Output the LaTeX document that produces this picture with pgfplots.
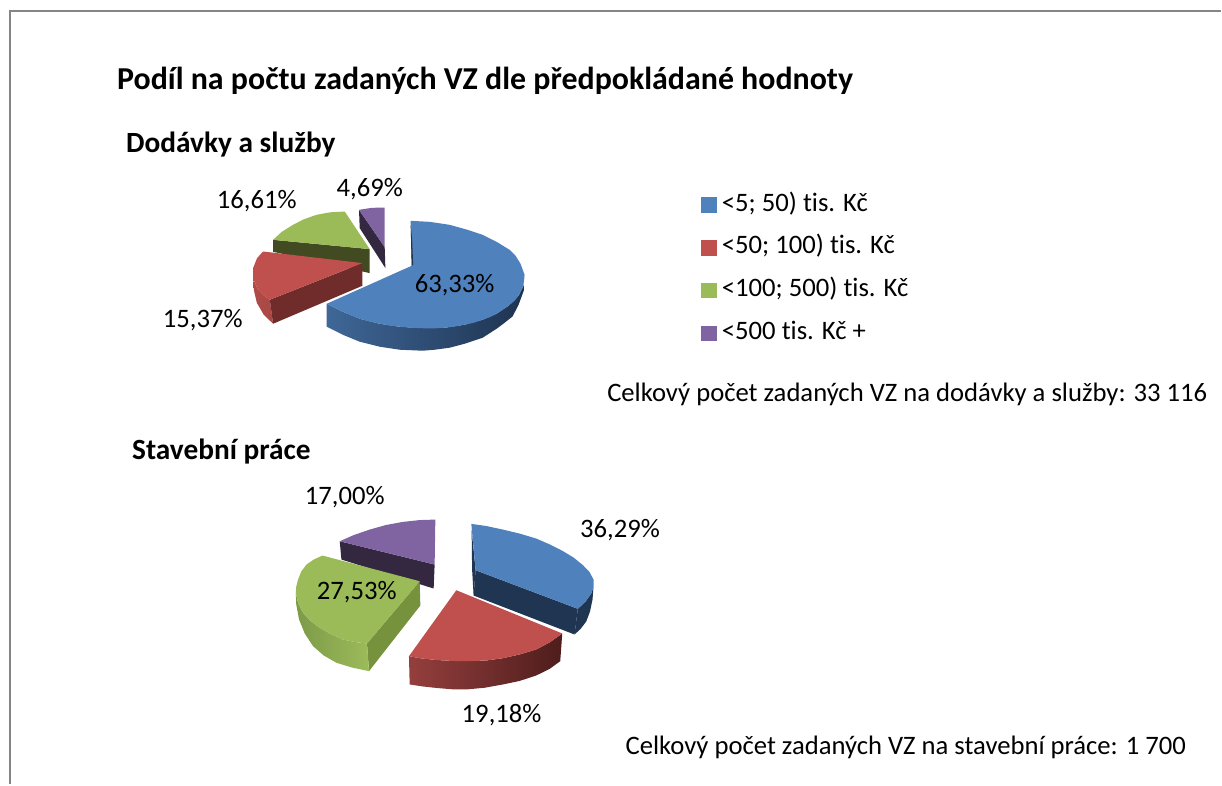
\documentclass[border=0pt]{standalone}
\usepackage{fontspec}
\setmainfont{Carlito}[Ligatures=NoCommon]
\usepackage{pgfplots}
\pgfplotsset{compat=1.18}

\definecolor{cblue}{HTML}{4F81BD}
\definecolor{cred}{HTML}{C0504D}
\definecolor{cgreen}{HTML}{9BBB59}
\definecolor{cviolet}{HTML}{8064A2}
\definecolor{dblue}{HTML}{1F3552}
\definecolor{dred}{HTML}{6F2C2B}
\definecolor{dgreen}{HTML}{414A20}
\definecolor{mgreen}{HTML}{76923C}
\definecolor{dviolet}{HTML}{332840}
\definecolor{sredA}{HTML}{B04A47}
\definecolor{sredB}{HTML}{A84845}
\definecolor{sredC}{HTML}{943F3D}
\definecolor{sredD}{HTML}{4E1D1C}
\definecolor{sblueA}{HTML}{3F6797}
\definecolor{sblueB}{HTML}{1E3350}
\definecolor{sgreenA}{HTML}{7D9A48}
\definecolor{sgreenB}{HTML}{9CBB59}

\pgfplotsset{
  face/.style={draw=none, fill=#1, no markers, forget plot},
  sideshade/.style 2 args={draw=none, left color=#1, right color=#2, no markers, forget plot},
}
\newcommand{\txt}[3]{\node[font=\fontsize{20}{22}\selectfont, inner sep=0pt, anchor=center] at (axis cs:#1,#2) {#3};}

\begin{document}
\begin{tikzpicture}
\begin{axis}[
    scale only axis,
    width=916.5pt, height=588.75pt,
    xmin=0, xmax=1222, ymin=0, ymax=785,
    y dir=reverse,
    hide axis,
    clip=false,
    legend style={at={(axis cs:702,192.5)}, anchor=north west, draw=none, fill=none,
      font=\fontsize{20}{22}\selectfont, row sep=14.25pt, inner sep=0pt, outer sep=0pt,
      nodes={inner sep=0pt, text height=14pt, text depth=4pt}},
    legend cell align=left,
    legend image code/.code={\fill[#1] (0pt,-5.6pt) rectangle (11.25pt,5.6pt); \path (15pt,0pt);},
]
% page size
\path (axis cs:0,0) rectangle (axis cs:1222,785);

% legend
\addlegendimage{cblue}\addlegendentry{<5; 50) tis. Kč}
\addlegendimage{cred}\addlegendentry{<50; 100) tis. Kč}
\addlegendimage{cgreen}\addlegendentry{<100; 500) tis. Kč}
\addlegendimage{cviolet}\addlegendentry{<500 tis. Kč +}

% frame
\addplot[draw=black!48, line width=1.5pt, no markers, forget plot] coordinates {(10,785) (10,11) (1222,11)};

% Dodavky a sluzby: violet
\addplot[face=dviolet] coordinates {(359.3,210) (385,247.3) (385.7,268.3) (360,228.3)};
\addplot[face=cviolet] coordinates {(385,207.7) (372,208) (359.3,210) (385,247.3)};
% green
\addplot[face=dgreen] coordinates {(273.3,240) (370,249.3) (370,273.3) (273.3,252)};
\addplot[face=cgreen] coordinates {(370,249.3) (345,211.7) (330,212.5) (316.7,215) (304,219.5) (293.3,225) (282,232) (273.3,240)};
% red
\addplot[sideshade={sredA}{sredB}] coordinates {(253.3,270) (254,290) (257,303) (264,315) (273.3,324) (270,300) (263.3,295) (257.3,288.3) (253.3,278.3)};
\addplot[face=dred] coordinates {(362.7,263.3) (270,300) (273.3,324) (362.7,286)};
\addplot[face=cred] coordinates {(362.7,263.3) (263.3,251.7) (257.3,258.3) (253.3,268.3) (253.3,278.3) (257.3,288.3) (263.3,295) (270,300)};
% blue
\addplot[sideshade={sblueA}{sblueB}] coordinates {(327,304) (343,312) (360,319) (380,324) (400,327) (423,328.5) (445,328) (465,325) (483,320) (497,314) (509,306) (519,296) (524,286) (525,275) (524.5,290) (519,305) (513,316.7) (505,323) (497,329) (483,338) (465,344) (450,348) (435,350) (423,351) (400,350) (380,347) (360,342) (343,335) (327,327)};
\addplot[face=cblue] coordinates {(412,266) (411,221) (430,222) (450,225) (468,230) (483,235) (497,242) (510,250) (516,256) (521,264) (525,275) (524.5,281) (523,288) (519,296) (515,301) (509,306) (503,310) (497,314) (490,317.5) (483,320) (474,323) (465,325) (455,326.8) (445,328) (434,328.7) (423,328.5) (411,328) (400,327) (390,325.8) (380,324) (370,321.7) (360,319) (351,315.5) (343,312) (335,308) (327,304)};
\addplot[face=dblue] coordinates {(411,225) (412,266) (413.5,265) (412.5,240)};

% Stavebni prace: violet
\addplot[face=dviolet] coordinates {(340,541.7) (435,565) (434,589) (341.7,560)};
\addplot[face=cviolet] coordinates {(435,565) (435.7,520) (420,520.5) (403.3,522.3) (386,525.5) (370,530) (354,535.5) (340,541.7)};
% green
\addplot[face=mgreen] coordinates {(420,581.7) (420.7,606) (369.3,671.7) (367.3,644)};
\addplot[sideshade={sgreenA}{sgreenB}] coordinates {(296,593.3) (296.5,605) (299.3,620) (305,634) (313.3,646.7) (324,656) (336.7,663.3) (352,668) (369.3,671.7) (367.3,644) (355,642.5) (343.3,640) (331,634.5) (320,628.3) (311,621.5) (303.3,613.3) (298.5,604)};
\addplot[face=cgreen] coordinates {(420,581.7) (322.7,556) (314,560) (306.7,565) (301.5,572) (298.3,580) (296.5,587) (296,593.3) (298.5,604) (303.3,613.3) (311,621.5) (320,628.3) (331,634.5) (343.3,640) (355,642.5) (367.3,644)};
% red
\addplot[sideshade={sredC}{sredD}] coordinates {(409.3,656.7) (410,685) (423,687) (436.7,688.5) (452,689.8) (466.7,690) (485,688.3) (503.3,685) (520,681.5) (536.7,676) (550,669.5) (560.7,661.7) (562.7,634) (550,643) (536.7,650) (520,655) (503.3,658.7) (487,661) (470,661.7) (453,661.5) (436.7,660.5) (422,659)};
\addplot[face=cred] coordinates {(456.7,590.7) (562.7,634) (550,643) (536.7,650) (520,655) (503.3,658.7) (487,661) (470,661.7) (453,661.5) (436.7,660.5) (422,659) (409.3,656.7)};
% blue
\addplot[face=dblue] coordinates {(476,570.7) (578.3,609.3) (575,635) (474,596)};
\addplot[face=dblue] coordinates {(578.3,609.3) (586,602) (591.7,594) (594,587) (593,600) (590.5,612) (586.7,622) (581,629.5) (575,635)};
\addplot[face=dblue] coordinates {(472,530) (476,570.7) (474,596) (472.5,570)};
\addplot[face=cblue] coordinates {(476,570.7) (471.7,524.3) (487,526.5) (503.3,530) (520,534) (536.7,539) (550.5,545) (563.3,551.5) (574,558) (583.3,565.5) (590,572.5) (594,580) (594,587) (591.7,594) (586,602) (578.3,609.3)};

% titles
\node[font=\fontsize{23.95}{26}\selectfont\bfseries, anchor=base west, inner sep=0pt] at (axis cs:117,90) {Podíl na počtu zadaných VZ dle předpokládané hodnoty};
\node[font=\fontsize{22}{24}\selectfont\bfseries, anchor=base west, inner sep=0pt] at (axis cs:126,153) {Dodávky a služby};
\node[font=\fontsize{22}{24}\selectfont\bfseries, anchor=base west, inner sep=0pt] at (axis cs:132,460) {Stavební práce};

% value labels
\txt{257}{201}{16,61\%}
\txt{370}{189}{4,69\%}
\txt{455}{285}{63,33\%}
\txt{203}{320}{15,37\%}
\txt{620.5}{531}{36,29\%}
\txt{502}{716}{19,18\%}
\txt{345}{498}{17,00\%}
\txt{357}{593}{27,53\%}

% totals
\txt{908}{395}{Celkový počet zadaných VZ na dodávky a služby: 33 116}
\txt{906.5}{748}{Celkový počet zadaných VZ na stavební práce: 1 700}
\end{axis}
\end{tikzpicture}
\end{document}
